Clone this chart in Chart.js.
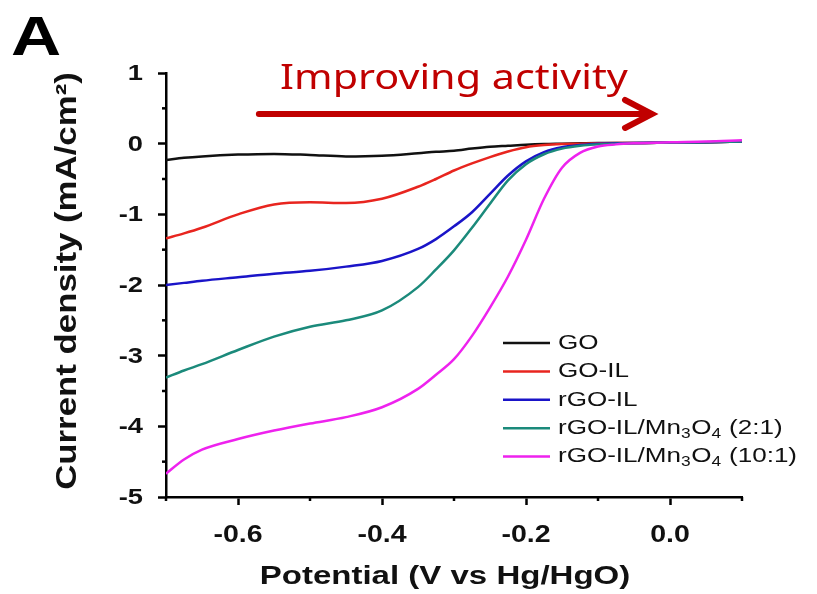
<!DOCTYPE html>
<html>
<head>
<meta charset="utf-8">
<title>LSV curves</title>
<script src="https://cdn.jsdelivr.net/npm/chart.js@4.4.1/dist/chart.umd.min.js"></script>
<style>
    html, body { margin: 0; padding: 0; background: #fff; }
    #wrap { width: 817px; height: 594px; }
</style>
</head>
<body>
<div id="wrap"><canvas id="lsvChart" width="817" height="594"></canvas></div>
<script>
// potential (V vs Hg/HgO)
const potential = [-0.7, -0.675, -0.65, -0.6, -0.55, -0.5, -0.45, -0.4, -0.35, -0.325, -0.3, -0.275, -0.25, -0.225, -0.2, -0.175, -0.15, -0.125, -0.1, -0.075, -0.05, 0, 0.05, 0.1];

// current density (mA/cm2)
const goCurrent     = [-0.23, -0.2, -0.18, -0.155, -0.145, -0.16, -0.18, -0.17, -0.135, -0.115, -0.10, -0.07, -0.045, -0.03, -0.015, -0.005, 0, 0.005, 0.01, 0.01, 0.01, 0.015, 0.02, 0.03];
const goIlCurrent   = [-1.34, -1.27, -1.19, -1.0, -0.86, -0.83, -0.84, -0.78, -0.61, -0.50, -0.38, -0.28, -0.19, -0.11, -0.05, -0.02, -0.005, 0, 0.005, 0.01, 0.01, 0.015, 0.02, 0.03];
const rgoIlCurrent  = [-2.0, -1.97, -1.94, -1.89, -1.84, -1.80, -1.74, -1.66, -1.49, -1.35, -1.17, -0.97, -0.71, -0.45, -0.25, -0.12, -0.05, -0.02, 0, 0.005, 0.01, 0.015, 0.02, 0.03];
const mn21Current   = [-3.31, -3.21, -3.12, -2.92, -2.73, -2.59, -2.50, -2.36, -2.03, -1.78, -1.51, -1.19, -0.85, -0.52, -0.29, -0.15, -0.07, -0.03, -0.01, 0, 0.005, 0.015, 0.02, 0.03];
const mn101Current  = [-4.67, -4.47, -4.33, -4.18, -4.06, -3.96, -3.87, -3.73, -3.47, -3.27, -3.05, -2.72, -2.32, -1.88, -1.36, -0.78, -0.34, -0.13, -0.04, -0.01, 0.005, 0.02, 0.03, 0.05];

const seriesLabels = ["GO", "GO-IL", "rGO-IL", "rGO-IL/Mn₃O₄ (2:1)", "rGO-IL/Mn₃O₄ (10:1)"];
const seriesColors = ["#111111", "#e8251f", "#1a14c8", "#1b8a7b", "#ee22ee"];
const seriesValues = [goCurrent, goIlCurrent, rgoIlCurrent, mn21Current, mn101Current];

const xMajorTicks = [-0.6, -0.4, -0.2, 0.0];
const yMajorTicks = [1, 0, -1, -2, -3, -4, -5];
const xTitle = "Potential (V vs Hg/HgO)";
const yTitle = "Current density (mA/cm²)";

// annotation, in data units
const arrowFrom = -0.571;
const arrowTo = -0.025;
const arrowLevel = 0.42;
const noteX = -0.30;
const noteY = 0.78;
const noteText = "Improving activity";
const redNote = "#c00000";

const sans = "'Liberation Sans', Arial, sans-serif";
const wide = 1.24; // the source figure's lettering is set wide

function roundX(v) { return Math.round(v * 10) / 10; }
function roundY(v) { return Math.round(v * 2) / 2; }
function isMajorX(v) { return xMajorTicks.includes(roundX(v)); }
function isMajorY(v) { return yMajorTicks.includes(roundY(v)); }

function wideText(ctx, text, x, y, font, align, baseline, sx, rot) {
    ctx.save();
    ctx.translate(x, y);
    if (rot) ctx.rotate(rot);
    ctx.scale(sx, 1);
    ctx.font = font;
    ctx.textAlign = align;
    ctx.textBaseline = baseline;
    ctx.fillText(text, 0, 0);
    ctx.restore();
}

const datasets = seriesValues.map((vals, i) => ({
    label: seriesLabels[i],
    data: potential.map((p, j) => ({ x: p, y: vals[j] })),
    borderColor: seriesColors[i],
    borderWidth: 2.5,
    pointRadius: 0,
    fill: false,
    cubicInterpolationMode: "monotone",
    order: seriesValues.length - 1 - i
}));

// minor ticks, tick labels, titles, legend, panel letter and arrow
const extrasPlugin = {
    id: "extras",
    afterDraw(chart) {
        const ctx = chart.ctx;
        const xs = chart.scales.x;
        const ys = chart.scales.y;

        ctx.save();
        ctx.strokeStyle = "#000";
        ctx.lineWidth = 2.5;
        xs.ticks.forEach(t => {
            if (isMajorX(t.value)) return;
            const px = xs.getPixelForValue(t.value);
            ctx.beginPath();
            ctx.moveTo(px, xs.top);
            ctx.lineTo(px, xs.top + 4);
            ctx.stroke();
        });
        ys.ticks.forEach(t => {
            if (isMajorY(t.value)) return;
            const py = ys.getPixelForValue(t.value);
            ctx.beginPath();
            ctx.moveTo(ys.right, py);
            ctx.lineTo(ys.right - 4, py);
            ctx.stroke();
        });

        // tick labels
        ctx.fillStyle = "#111";
        xMajorTicks.forEach(v => {
            wideText(ctx, v.toFixed(1), xs.getPixelForValue(v), 536, "bold 23px " + sans, "center", "middle", wide);
        });
        yMajorTicks.forEach(v => {
            wideText(ctx, String(v), 143, ys.getPixelForValue(v) + 1, "bold 22px " + sans, "right", "middle", wide);
        });

        // axis titles
        wideText(ctx, xTitle, 445, 577, "bold 26px " + sans, "center", "middle", 1.27);
        wideText(ctx, yTitle, 68, 281, "bold 29px " + sans, "center", "middle", 1.2, -Math.PI / 2);

        // panel letter
        ctx.fillStyle = "#000";
        wideText(ctx, "A", 11, 55, "bold 56px " + sans, "left", "alphabetic", wide);

        // arrow + note
        const ax1 = xs.getPixelForValue(arrowFrom);
        const ax2 = xs.getPixelForValue(arrowTo);
        const ay = ys.getPixelForValue(arrowLevel);
        ctx.strokeStyle = redNote;
        ctx.lineWidth = 6;
        ctx.lineCap = "round";
        ctx.beginPath();
        ctx.moveTo(ax1, ay);
        ctx.lineTo(ax2 - 2, ay);
        ctx.stroke();
        ctx.beginPath();
        ctx.moveTo(ax2 - 27, ay - 14);
        ctx.lineTo(ax2, ay);
        ctx.lineTo(ax2 - 27, ay + 14);
        ctx.stroke();

        ctx.fillStyle = redNote;
        wideText(ctx, noteText, xs.getPixelForValue(noteX), ys.getPixelForValue(noteY),
            "35px 'Noto Sans', 'Open Sans', sans-serif", "center", "alphabetic", 1.18);

        // legend
        const lx = 503, ly = 343, step = 28.4;
        ctx.lineCap = "butt";
        chart.data.datasets.forEach((ds, i) => {
            const y = ly + i * step;
            ctx.strokeStyle = ds.borderColor;
            ctx.lineWidth = 2.5;
            ctx.beginPath();
            ctx.moveTo(lx, y);
            ctx.lineTo(lx + 47, y);
            ctx.stroke();
            drawLabel(ctx, ds.label, lx + 55, y);
        });
        ctx.restore();
    }
};

const subDigits = { "₃": "3", "₄": "4" };

function drawLabel(ctx, text, x, y) {
    ctx.save();
    ctx.translate(x, y);
    ctx.scale(wide, 1);
    ctx.fillStyle = "#111";
    ctx.textAlign = "left";
    ctx.textBaseline = "middle";
    let cx = 0;
    for (const ch of text) {
        if (subDigits[ch]) {
            ctx.font = "14px " + sans;
            ctx.fillText(subDigits[ch], cx, 6);
            cx += ctx.measureText(subDigits[ch]).width + 0.5;
        } else {
            ctx.font = "21px " + sans;
            ctx.fillText(ch, cx, 0);
            cx += ctx.measureText(ch).width;
        }
    }
    ctx.restore();
}

new Chart(document.getElementById("lsvChart"), {
    type: "line",
    data: { datasets: datasets },
    plugins: [extrasPlugin],
    options: {
        responsive: false,
        animation: false,
        events: [],
        layout: { padding: { top: 73, right: 75, left: 0, bottom: 0 } },
        plugins: {
            legend: { display: false },
            tooltip: { enabled: false }
        },
        scales: {
            x: {
                type: "linear",
                min: -0.7,
                max: 0.1,
                afterFit: scale => { scale.height = 97; },
                border: { display: true, color: "#000", width: 2.5 },
                grid: {
                    drawOnChartArea: false,
                    drawTicks: true,
                    tickLength: 8,
                    tickWidth: 2.5,
                    tickColor: c => (c.tick && isMajorX(c.tick.value)) ? "#000" : "rgba(0,0,0,0)"
                },
                ticks: { stepSize: 0.1, autoSkip: false, maxRotation: 0, display: false },
                title: { display: false }
            },
            y: {
                type: "linear",
                min: -5,
                max: 1,
                afterFit: scale => { scale.width = 166; },
                border: { display: true, color: "#000", width: 2.5 },
                grid: {
                    drawOnChartArea: false,
                    drawTicks: true,
                    tickLength: 8,
                    tickWidth: 2.5,
                    tickColor: c => (c.tick && isMajorY(c.tick.value)) ? "#000" : "rgba(0,0,0,0)"
                },
                ticks: { stepSize: 0.5, autoSkip: false, display: false },
                title: { display: false }
            }
        }
    }
});
</script>
</body>
</html>
